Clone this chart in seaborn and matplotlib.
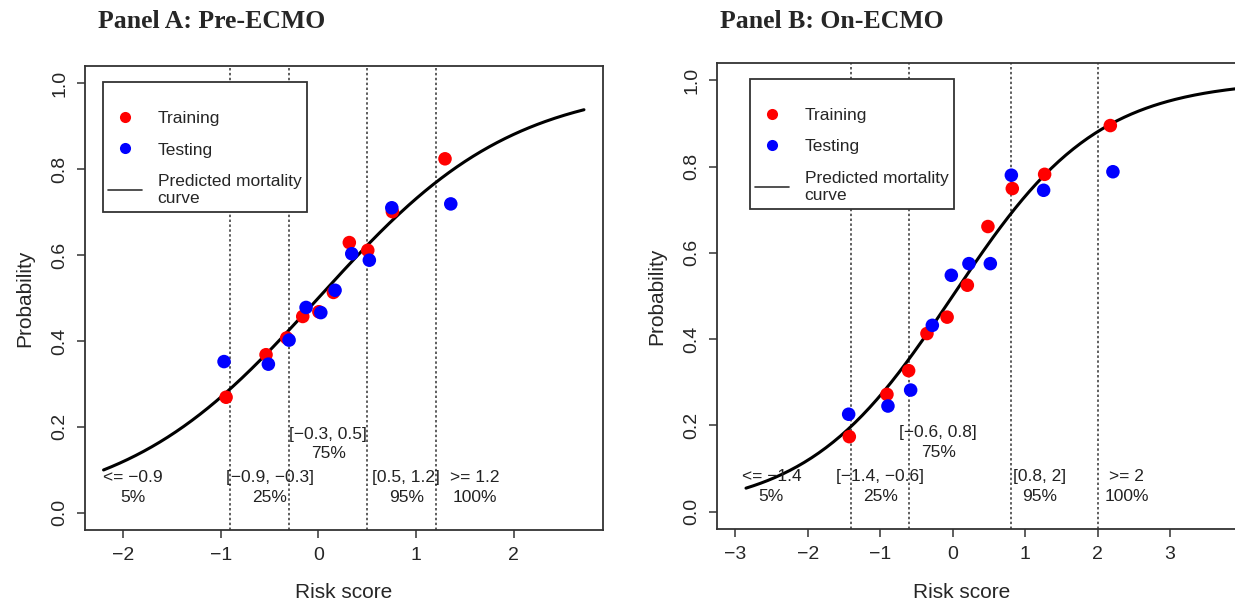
"""Calibration plots of predicted mortality vs risk score (pre- and on-ECMO)."""
import matplotlib
matplotlib.use('Agg')
import matplotlib.pyplot as plt
from matplotlib.lines import Line2D
import numpy as np
import pandas as pd
import seaborn as sns

# ---- data ----
# Panel A: Pre-ECMO
a_train_x = [-0.945, -0.536, -0.324, -0.16, 0.005, 0.154, 0.317, 0.506, 0.758, 1.297]
a_train_y = [0.269, 0.368, 0.407, 0.457, 0.468, 0.513, 0.629, 0.611, 0.701, 0.824]
a_test_x = [-0.966, -0.512, -0.30, -0.126, 0.025, 0.171, 0.342, 0.522, 0.752, 1.356]
a_test_y = [0.352, 0.346, 0.402, 0.478, 0.466, 0.518, 0.603, 0.588, 0.710, 0.719]
a_cuts = [-0.9, -0.3, 0.5, 1.2]
a_labels = ['<= \u22120.9\n5%', '[\u22120.9, \u22120.3]\n25%', '[\u22120.3, 0.5]\n75%',
            '[0.5, 1.2]\n95%', '>= 1.2\n100%']
a_label_x = [-1.9, -0.5, 0.1, 0.9, 1.6]
a_label_y = [0.058, 0.058, 0.16, 0.058, 0.058]
a_curve_range = (-2.2, 2.72)

# Panel B: On-ECMO
b_train_x = [-1.425, -0.906, -0.607, -0.354, -0.076, 0.203, 0.487, 0.823, 1.269, 2.175]
b_train_y = [0.174, 0.272, 0.327, 0.413, 0.451, 0.525, 0.661, 0.749, 0.782, 0.895]
b_test_x = [-1.434, -0.892, -0.579, -0.28, -0.018, 0.225, 0.52, 0.81, 1.255, 2.211]
b_test_y = [0.226, 0.245, 0.282, 0.432, 0.548, 0.575, 0.575, 0.780, 0.745, 0.788]
b_cuts = [-1.4, -0.6, 0.8, 2.0]
b_labels = ['<= \u22121.4\n5%', '[\u22121.4, \u22120.6]\n25%', '[\u22120.6, 0.8]\n75%',
            '[0.8, 2]\n95%', '>= 2\n100%']
b_label_x = [-2.5, -1.0, -0.2, 1.2, 2.4]
b_label_y = [0.058, 0.058, 0.16, 0.058, 0.058]
b_curve_range = (-2.85, 7.15)

# logistic model for predicted mortality: p = 1 / (1 + exp(-(b0 + b1 * score)))
b0, b1 = 0.0, 1.0

sns.set_style('ticks')
plt.rcParams['font.family'] = ['Liberation Sans', 'DejaVu Sans']

fig = plt.figure(figsize=(12.35, 6.04), dpi=100)
W, H = 1235.0, 604.0


def px_axes(left, top, right, bottom):
    return fig.add_axes([left / W, 1 - bottom / H, (right - left) / W, (bottom - top) / H])


def draw_panel(ax, tr_x, tr_y, te_x, te_y, cuts, labels, lab_x, lab_y, crange,
               xlim, xticks, legend_xy, xlabel_pos):
    pts = pd.DataFrame({
        'score': tr_x + te_x,
        'prob': tr_y + te_y,
        'set': ['Training'] * len(tr_x) + ['Testing'] * len(te_x),
    })
    xs = np.linspace(crange[0], crange[1], 300)
    curve = pd.DataFrame({'score': xs, 'prob': 1 / (1 + np.exp(-(b0 + b1 * xs)))})

    for c in cuts:
        ax.axvline(c, color='#333333', lw=1.1, ls=(0, (1.6, 1.6)), zorder=1)
    sns.lineplot(data=curve, x='score', y='prob', color='black', lw=2.2, ax=ax,
                 zorder=2, legend=False)
    sns.scatterplot(data=pts, x='score', y='prob', hue='set',
                    palette={'Training': '#ff0000', 'Testing': '#0000ff'},
                    s=95, edgecolor='none', ax=ax, zorder=3, legend=False)
    for t, x, y in zip(labels, lab_x, lab_y):
        ax.text(x, y, t, ha='center', va='center', fontsize=12.5, color='#222222',
                linespacing=1.4, zorder=4)

    ax.set_xlim(*xlim)
    ax.set_ylim(-0.04, 1.04)
    ax.set_xticks(xticks)
    ax.set_xticklabels([str(v).replace('-', '\u2212') for v in xticks])
    ax.set_yticks([0.0, 0.2, 0.4, 0.6, 0.8, 1.0])
    ax.set_yticklabels(['0.0', '0.2', '0.4', '0.6', '0.8', '1.0'])
    ax.tick_params(axis='both', direction='out', length=6, width=1.1,
                   color='#333333', labelsize=14, pad=6)
    ax.tick_params(axis='y', labelrotation=90)
    for lab in ax.get_yticklabels():
        lab.set_va('center')
    ax.set_xlabel('Risk score', fontsize=15)
    ax.xaxis.set_label_coords(xlabel_pos, -0.115)
    ax.set_ylabel('Probability', fontsize=15, labelpad=12)
    for sp in ax.spines.values():
        sp.set_color('#333333')
        sp.set_linewidth(1.3)

    handles = [
        Line2D([], [], ls='none', marker='o', ms=8, mfc='#ff0000', mec='none'),
        Line2D([], [], ls='none', marker='o', ms=8, mfc='#0000ff', mec='none'),
        Line2D([], [], color='#333333', lw=1.2),
    ]
    leg = ax.legend(handles, ['Training', 'Testing', 'Predicted mortality\ncurve'],
                    loc='upper left', bbox_to_anchor=legend_xy,
                    bbox_transform=fig.transFigure, borderaxespad=0,
                    fontsize=12.5, title=' ', title_fontsize=5,
                    borderpad=0.3, labelspacing=0.95, handlelength=1.95,
                    handletextpad=0.9, fancybox=False, framealpha=1)
    leg.get_frame().set_edgecolor('#333333')
    leg.get_frame().set_linewidth(1.3)
    for t in leg.get_texts():
        t.set_linespacing(1.2)


ax_a = px_axes(85, 66, 603, 530)
draw_panel(ax_a, a_train_x, a_train_y, a_test_x, a_test_y, a_cuts, a_labels,
           a_label_x, a_label_y, a_curve_range, (-2.39, 2.915), [-2, -1, 0, 1, 2],
           (103 / W, 1 - 82 / H), 0.5)

b_right = 717 + (7.5 + 3.25) * 72.5
ax_b = px_axes(717, 63, b_right, 529)
draw_panel(ax_b, b_train_x, b_train_y, b_test_x, b_test_y, b_cuts, b_labels,
           b_label_x, b_label_y, b_curve_range, (-3.25, 7.5), [-3, -2, -1, 0, 1, 2, 3],
           (750 / W, 1 - 79 / H), (962 - 717) / (b_right - 717))

title_font = dict(family=['Liberation Serif', 'DejaVu Serif'], weight='bold', fontsize=18.5)
fig.text(98 / W, 1 - 21 / H, 'Panel A: Pre-ECMO', ha='left', va='center', **title_font)
fig.text(720 / W, 1 - 21 / H, 'Panel B: On-ECMO', ha='left', va='center', **title_font)

fig.savefig('out.png', dpi=100, facecolor='white')
plt.close(fig)
